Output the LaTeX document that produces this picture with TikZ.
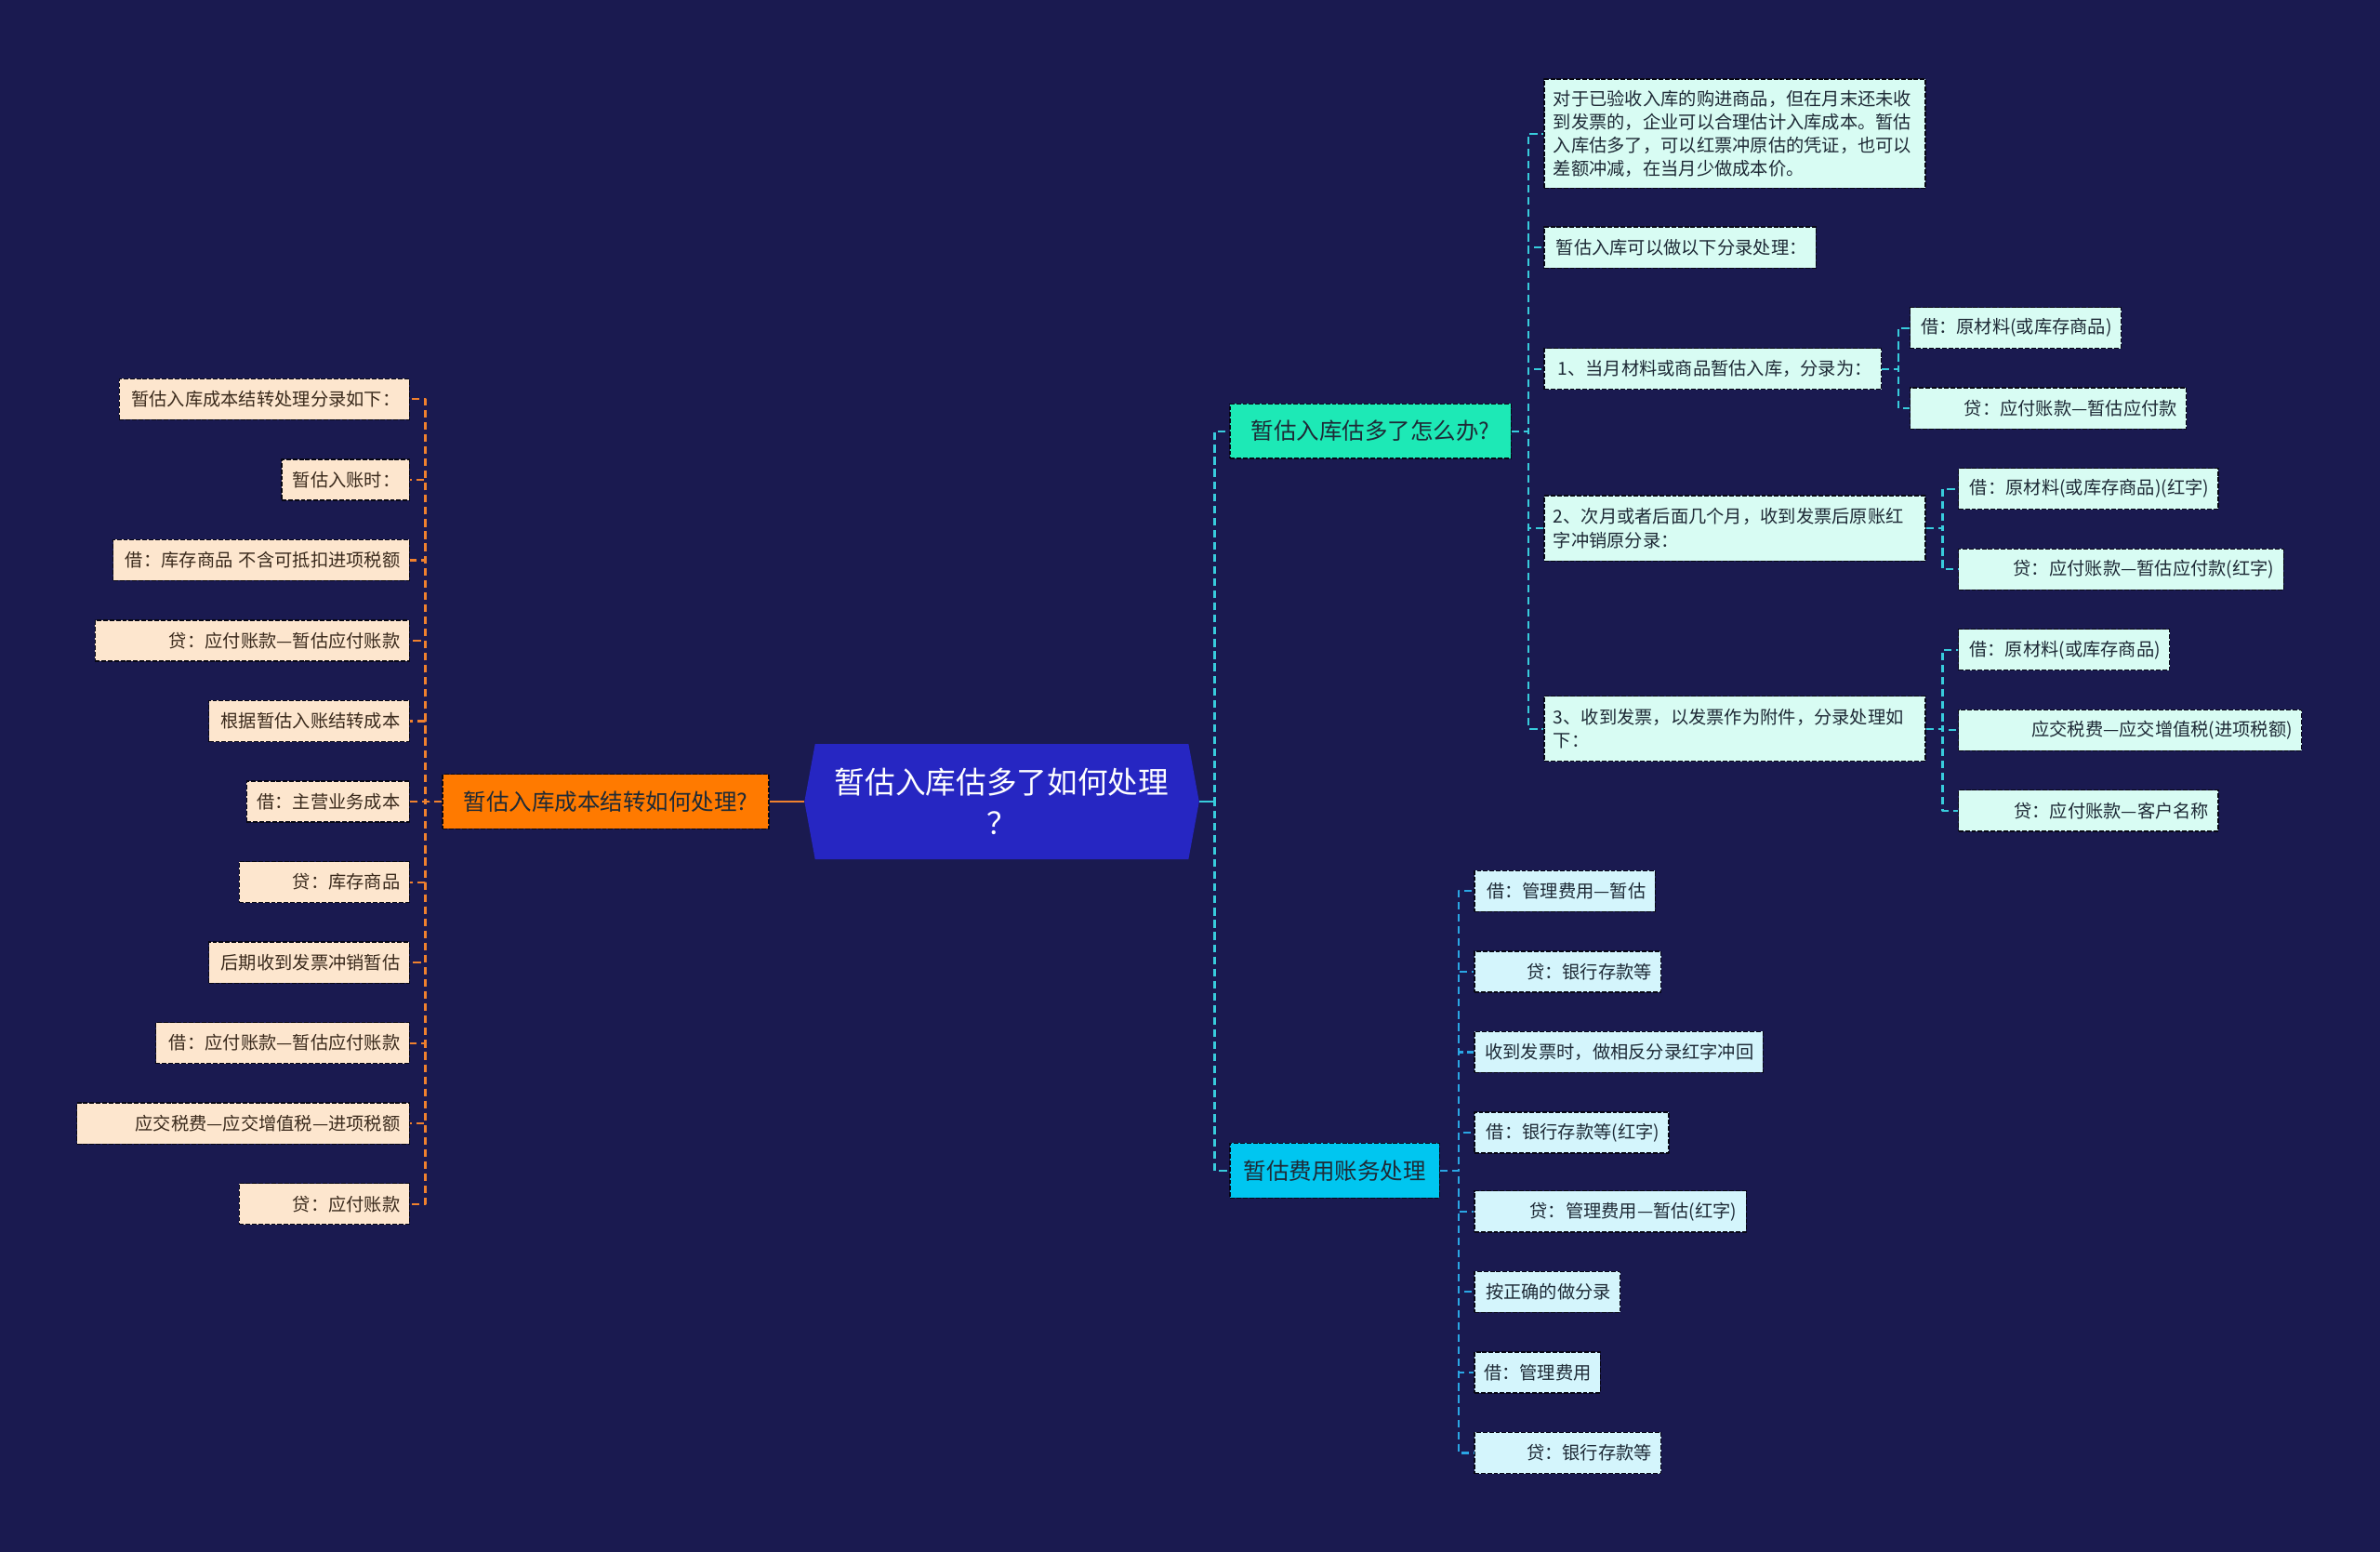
\documentclass[tikz,border=0pt]{standalone}
\usepackage{fontspec}
\setmainfont{Noto Sans CJK SC}
\definecolor{bgnavy}{HTML}{1A1A50}
\definecolor{rootblue}{HTML}{2626C2}
\definecolor{topicteal}{HTML}{1DE9B6}
\definecolor{topiccyan}{HTML}{00C6F0}
\definecolor{topicorange}{HTML}{FF7A00}
\definecolor{leafpeach}{HTML}{FDE6CE}
\definecolor{leafmint}{HTML}{D8FCF3}
\definecolor{leafsky}{HTML}{D4F5FC}
\definecolor{lineteal}{HTML}{38CCDC}
\definecolor{linesky}{HTML}{2AA6E4}
\definecolor{lineorange}{HTML}{F0812E}
\definecolor{inkdark}{HTML}{1E2A36}
\definecolor{inkbrown}{HTML}{3A2A1C}
\begin{document}
\begin{tikzpicture}[x=1pt, y=-1pt, line join=round,
  txt/.style={inner xsep=6pt, inner ysep=0pt, font=\fontsize{11.8}{15.4}\selectfont},
  leafbox/.style={txt, draw=black!75!bgnavy, line width=0.8pt, dash pattern=on 3pt off 1.2pt},
  lleaf/.style={leafbox, fill=leafpeach, text=inkbrown, minimum height=27pt, align=right},
  mleaf/.style={leafbox, fill=leafmint, text=inkdark, minimum height=27pt, align=right},
  sleaf/.style={leafbox, fill=leafsky, text=inkdark, minimum height=27pt, align=right},
  topic/.style={leafbox, font=\fontsize{15}{18}\selectfont, text=inkdark, minimum height=36pt},
  oline/.style={lineorange, line width=1.3pt, dash pattern=on 5pt off 3pt},
  tline/.style={lineteal, line width=1.3pt, dash pattern=on 5pt off 3pt},
  sline/.style={linesky, line width=1.3pt, dash pattern=on 5pt off 3pt}]
\fill[bgnavy] (0,0) rectangle (1568,1022);
\useasboundingbox (0,0) rectangle (1568,1022);

\fill[rootblue] (537,490) -- (783,490) -- (790,528) -- (783,566) -- (537,566) -- (530,528) -- cycle;
\node[txt, minimum width=260pt, minimum height=76pt, text width=240pt, align=center,
  text=white, font=\fontsize{20}{27}\selectfont] (root) at (660,528) {暂估入库估多了如何处理\\？};

\node[topic, fill=topicorange, minimum width=215pt, anchor=east] (lb) at (507,528) {暂估入库成本结转如何处理?};
\node[topic, fill=topicteal, minimum width=185pt, anchor=west] (b1) at (810,284) {暂估入库估多了怎么办?};
\node[topic, fill=topiccyan, minimum width=138pt, anchor=west] (b2) at (810,771) {暂估费用账务处理};

\foreach \y/\w/\t [count=\i] in {
  263/179/暂估入库成本结转处理分录如下：,
  316/72/暂估入账时：,
  369/183/借：库存商品~不含可抵扣进项税额,
  422/195/贷：应付账款—暂估应付账款,
  475/120/根据暂估入账结转成本,
  528/95/借：主营业务成本,
  581/100/贷：库存商品,
  634/120/后期收到发票冲销暂估,
  687/155/借：应付账款—暂估应付账款,
  740/207/应交税费—应交增值税—进项税额,
  793/100/贷：应付账款}
  \node[lleaf, text width=\w pt, anchor=east] (l\i) at (270,\y) {\t};

\node[mleaf, align=left, text width=239pt, minimum height=72pt, anchor=west] (c1) at (1017,88)
  {对于已验收入库的购进商品，但在月末还未收\\到发票的，企业可以合理估计入库成本。暂估\\入库估多了，可以红票冲原估的凭证，也可以\\差额冲减，在当月少做成本价。};
\node[mleaf, text width=167pt, anchor=west] (c2) at (1017,163) {暂估入库可以做以下分录处理：};
\node[mleaf, text width=210pt, anchor=west] (c3) at (1017,243) {1、当月材料或商品暂估入库，分录为：};
\node[mleaf, align=left, text width=239pt, minimum height=43pt, anchor=west] (c4) at (1017,348)
  {2、次月或者后面几个月，收到发票后原账红\\字冲销原分录：};
\node[mleaf, align=left, text width=239pt, minimum height=43pt, anchor=west] (c5) at (1017,480)
  {3、收到发票，以发票作为附件，分录处理如\\下：};

\foreach \y/\w/\t [count=\i] in {216/127/借：原材料(或库存商品), 269/170/贷：应付账款—暂估应付款}
  \node[mleaf, text width=\w pt, anchor=west] (d\i) at (1258,\y) {\t};
\foreach \y/\w/\t [count=\i] in {322/159/借：原材料(或库存商品)(红字), 375/202/贷：应付账款—暂估应付款(红字)}
  \node[mleaf, text width=\w pt, anchor=west] (e\i) at (1290,\y) {\t};
\foreach \y/\w/\t [count=\i] in {428/127/借：原材料(或库存商品), 481/214/应交税费—应交增值税(进项税额),
  534/159/贷：应付账款—客户名称}
  \node[mleaf, text width=\w pt, anchor=west] (f\i) at (1290,\y) {\t};

\foreach \y/\w/\t [count=\i] in {
  587/107/借：管理费用—暂估,
  640/111/贷：银行存款等,
  693/178/收到发票时，做相反分录红字冲回,
  746/116/借：银行存款等(红字),
  798/167/贷：管理费用—暂估(红字),
  851/84/按正确的做分录,
  904/71/借：管理费用,
  957/111/贷：银行存款等}
  \node[sleaf, text width=\w pt, anchor=west] (g\i) at (971,\y) {\t};

\draw[lineorange, line width=1.5pt] (lb.east) -- (root.west);
\foreach \i in {1,...,11} \draw[oline] (lb.west) -- ++(-11,0) |- (l\i.east);

\draw[tline] (root.east) -- ++(10,0) |- (b1.west);
\draw[tline] (root.east) -- ++(10,0) |- (b2.west);
\draw[lineteal, line width=1.5pt] (root.east) -- ++(10,0);
\foreach \i in {1,...,5} \draw[tline] (b1.east) -- ++(11,0) |- (c\i.west);
\foreach \i in {1,2} \draw[tline] (c3.east) -- ++(11,0) |- (d\i.west);
\foreach \i in {1,2} \draw[tline] (c4.east) -- ++(11,0) |- (e\i.west);
\foreach \i in {1,2,3} \draw[tline] (c5.east) -- ++(11,0) |- (f\i.west);
\foreach \i in {1,...,8} \draw[sline] (b2.east) -- ++(12,0) |- (g\i.west);
\end{tikzpicture}
\end{document}
